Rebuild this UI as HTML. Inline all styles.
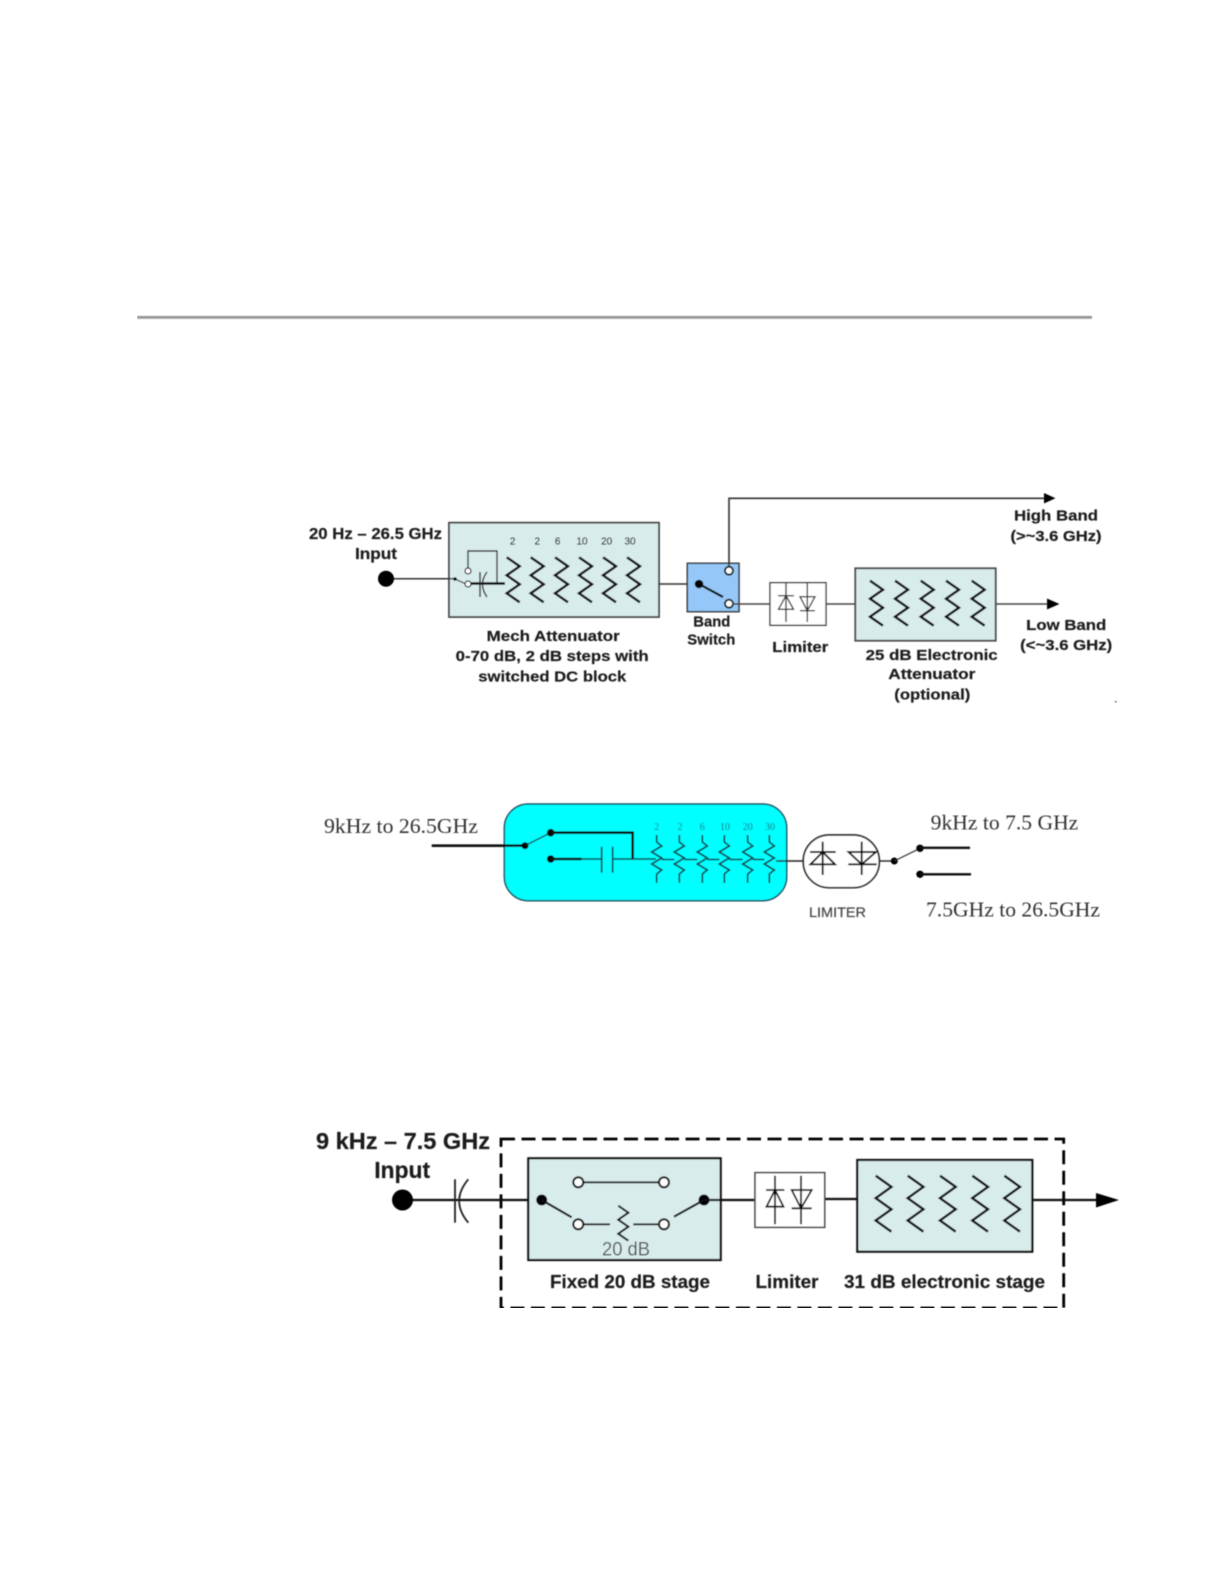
<!DOCTYPE html>
<html>
<head>
<meta charset="utf-8">
<style>
html,body{margin:0;padding:0;background:#fff;width:1224px;height:1584px;overflow:hidden}
svg{display:block}
.b{font-family:"Liberation Sans",sans-serif;font-weight:bold;fill:#1c1c1c;stroke:#1c1c1c;stroke-width:.2}
.s{font-family:"Liberation Serif",serif;fill:#333}
</style>
</head>
<body>
<svg xmlns="http://www.w3.org/2000/svg" width="1224" height="1584" viewBox="0 0 1224 1584">
<defs>
<filter id="bl" x="0" y="0" width="100%" height="100%"><feGaussianBlur stdDeviation="0.45"/></filter>
<polyline id="z1" points="0,0 13,9 0,18 13,27 0,36 13,45" fill="none" stroke="#111" stroke-width="2.5"/>
<polyline id="z3" points="0,0 15.7,11.2 0,22.4 15.7,33.6 0,44.8 15.7,56" fill="none" stroke="#111" stroke-width="2.5"/>
<path id="z4" d="M0 0V7L5 11L-5 17L5 23L-5 29L5 35L0 39V48" fill="none" stroke="#123c46" stroke-width="1.7"/>
</defs>
<rect width="1224" height="1584" fill="#fff"/>
<g filter="url(#bl)">
<rect x="137" y="315.8" width="955" height="3" fill="#999"/>

<!-- Diagram 1 -->
<text class="b" x="309" y="539" font-size="15.5" textLength="133" lengthAdjust="spacingAndGlyphs">20 Hz – 26.5 GHz</text>
<text class="b" x="355" y="559" font-size="15.5" textLength="42" lengthAdjust="spacingAndGlyphs">Input</text>
<rect x="449" y="522.7" width="210" height="94.3" fill="#d9ecec" stroke="#444" stroke-width="1.8"/>
<path d="M386 578.7H455" stroke="#333" stroke-width="1.5"/>
<circle cx="386" cy="578.7" r="8" fill="#000"/>
<circle cx="455" cy="579" r="1.8" fill="#000"/>
<path d="M455 579L466 584" stroke="#111" stroke-width="1.2"/>
<path d="M468 568V551H497V583" fill="none" stroke="#333" stroke-width="1.4"/>
<circle cx="468" cy="571" r="3" fill="#fff" stroke="#111" stroke-width="1.2"/>
<circle cx="468" cy="584" r="3" fill="#fff" stroke="#111" stroke-width="1.2"/>
<path d="M471 583.5H505" stroke="#000" stroke-width="2.4"/>
<path d="M480 572V597" stroke="#222" stroke-width="1.4"/>
<path d="M487 572Q478 584 487 597" fill="none" stroke="#222" stroke-width="1.4"/>
<use href="#z1" x="506.7" y="557.3"/><use href="#z1" x="530.7" y="557.3"/><use href="#z1" x="555" y="557.3"/><use href="#z1" x="579" y="557.3"/><use href="#z1" x="603" y="557.3"/><use href="#z1" x="627" y="557.3"/>
<g font-family="Liberation Sans,sans-serif" font-size="10" fill="#222" text-anchor="middle" stroke="#222" stroke-width=".2">
<text x="512.7" y="544.5">2</text><text x="537.3" y="544.5">2</text><text x="557.7" y="544.5">6</text><text x="582" y="544.5">10</text><text x="606.7" y="544.5">20</text><text x="630" y="544.5">30</text>
</g>
<path d="M659 584H687" stroke="#333" stroke-width="1.5"/>
<rect x="687.3" y="563.3" width="51.7" height="48.4" fill="#95c8f8" stroke="#333" stroke-width="1.5"/>
<circle cx="699" cy="584" r="4.3" fill="#000"/>
<path d="M699 584L723 597" stroke="#000" stroke-width="2.2"/>
<path d="M729 567V498.3H1045" fill="none" stroke="#333" stroke-width="1.6"/>
<circle cx="729" cy="570.7" r="4" fill="#fff" stroke="#111" stroke-width="1.9"/>
<circle cx="729" cy="603.7" r="4" fill="#fff" stroke="#111" stroke-width="1.9"/>
<path d="M1044 493L1055.5 498.3L1044 503.5Z" fill="#000"/>
<path d="M733 604H770" stroke="#444" stroke-width="1.5"/>
<rect x="770" y="582.7" width="56" height="42.6" fill="#fff" stroke="#444" stroke-width="1.4"/>
<path d="M786 583V622M778 595.7H794M778.5 609.3H793.5L786 595.7Z" fill="none" stroke="#333" stroke-width="1.4"/>
<path d="M807.3 583V622M800 610.7H815M800 596.7H815L807.3 610.7Z" fill="none" stroke="#333" stroke-width="1.4"/>
<path d="M826 604H855" stroke="#444" stroke-width="1.5"/>
<rect x="855.3" y="568.3" width="140.4" height="72.4" fill="#d9ecec" stroke="#444" stroke-width="1.8"/>
<use href="#z1" x="870" y="580.7"/><use href="#z1" x="895" y="580.7"/><use href="#z1" x="920.7" y="580.7"/><use href="#z1" x="946" y="580.7"/><use href="#z1" x="971.7" y="580.7"/>
<path d="M995.7 604H1048" stroke="#444" stroke-width="1.5"/>
<path d="M1047 598.5L1059.5 604L1047 609.5Z" fill="#000"/>
<text class="b" x="1014" y="520.7" font-size="15" textLength="84" lengthAdjust="spacingAndGlyphs">High Band</text>
<text class="b" x="1010.5" y="541" font-size="15" textLength="91" lengthAdjust="spacingAndGlyphs">(&gt;~3.6 GHz)</text>
<text class="b" x="1026.2" y="629.8" font-size="15" textLength="80" lengthAdjust="spacingAndGlyphs">Low Band</text>
<text class="b" x="1020.2" y="649.8" font-size="15" textLength="92" lengthAdjust="spacingAndGlyphs">(&lt;~3.6 GHz)</text>
<text class="b" x="772.3" y="652.2" font-size="15" textLength="56" lengthAdjust="spacingAndGlyphs">Limiter</text>
<text class="b" x="865.7" y="659.8" font-size="15" textLength="132" lengthAdjust="spacingAndGlyphs">25 dB Electronic</text>
<text class="b" x="888.3" y="679.2" font-size="15" textLength="87" lengthAdjust="spacingAndGlyphs">Attenuator</text>
<text class="b" x="894.3" y="699.5" font-size="15" textLength="76" lengthAdjust="spacingAndGlyphs">(optional)</text>
<text class="b" x="486.7" y="640.8" font-size="15" textLength="133" lengthAdjust="spacingAndGlyphs">Mech Attenuator</text>
<text class="b" x="455.7" y="661" font-size="15" textLength="193" lengthAdjust="spacingAndGlyphs">0-70 dB, 2 dB steps with</text>
<text class="b" x="478.3" y="681.5" font-size="15" textLength="148" lengthAdjust="spacingAndGlyphs">switched DC block</text>
<text class="b" x="693.3" y="626.6" font-size="14.5" textLength="37" lengthAdjust="spacingAndGlyphs">Band</text>
<text class="b" x="687.3" y="644.6" font-size="14.5" textLength="48" lengthAdjust="spacingAndGlyphs">Switch</text>
<rect x="1115" y="701" width="1.5" height="1.5" fill="#555"/>

<!-- Diagram 2 -->
<text class="s" x="324" y="833" font-size="21" textLength="154" lengthAdjust="spacingAndGlyphs">9kHz to 26.5GHz</text>
<rect x="504.3" y="804" width="282.4" height="96.7" rx="24" ry="24" fill="#00ffff" stroke="#1f5060" stroke-width="1.5"/>
<path d="M431.7 845.7H525" stroke="#111" stroke-width="2.6"/>
<circle cx="525" cy="845.7" r="3.5" fill="#000"/>
<path d="M525 845.7L550.7 832.7" stroke="#222" stroke-width="1.3"/>
<circle cx="550.7" cy="832.7" r="3.8" fill="#000"/>
<path d="M550.7 832.7H632.7V859" fill="none" stroke="#111" stroke-width="2.6"/>
<circle cx="550.7" cy="859" r="3.8" fill="#000"/>
<path d="M550.7 859H581.7" stroke="#111" stroke-width="2.6"/>
<path d="M581.7 859H601.7M612.7 859H656M661.7 859.5H674.3M684.3 859.5H697.3M707.3 859.5H719.3M729.3 859.5H742.7M752.7 859.5H764.3" stroke="#123c46" stroke-width="1.5"/>
<path d="M601.7 846.7V872.7M612.7 846.7V872.7" stroke="#123c46" stroke-width="1.7"/>
<path d="M776 861H803.3" fill="none" stroke="#222" stroke-width="1.4"/>
<use href="#z4" x="656.7" y="835"/><use href="#z4" x="679.3" y="835"/><use href="#z4" x="702.3" y="835"/><use href="#z4" x="724.3" y="835"/><use href="#z4" x="747.7" y="835"/><use href="#z4" x="769.3" y="835"/>
<g font-family="Liberation Serif,serif" font-size="10" fill="#1c6474" text-anchor="middle">
<text x="656.7" y="830">2</text><text x="680" y="830">2</text><text x="702.3" y="830">6</text><text x="725" y="830">10</text><text x="747.7" y="830">20</text><text x="770" y="830">30</text>
</g>
<rect x="803.3" y="835" width="76" height="52.7" rx="26" ry="26" fill="#fff" stroke="#222" stroke-width="1.7"/>
<path d="M822.7 841.7V875M810 852H835.7M810.5 864.3H835L822.7 852Z" fill="none" stroke="#111" stroke-width="1.9"/>
<path d="M861.7 841.7V875M848.3 864.3H876.7M848.5 852H876L861.7 864.3Z" fill="none" stroke="#111" stroke-width="1.9"/>
<path d="M879.3 861H894.3" stroke="#222" stroke-width="1.4"/>
<circle cx="894.3" cy="861" r="3.5" fill="#000"/>
<path d="M894.3 861L920 848.3" stroke="#333" stroke-width="1.2"/>
<circle cx="920" cy="848.3" r="3.7" fill="#000"/>
<path d="M920 847.8H970" stroke="#111" stroke-width="2.3"/>
<circle cx="920" cy="874.3" r="3.7" fill="#000"/>
<path d="M920 874.3H971" stroke="#111" stroke-width="2.3"/>
<text class="s" x="930.7" y="829.3" font-size="21" textLength="147.6" lengthAdjust="spacingAndGlyphs">9kHz to 7.5 GHz</text>
<text class="s" x="926" y="916.7" font-size="21" textLength="174" lengthAdjust="spacingAndGlyphs">7.5GHz to 26.5GHz</text>
<text x="809" y="917" font-family="Liberation Sans,sans-serif" font-size="13.5" fill="#444" stroke="#444" stroke-width=".2" textLength="57" lengthAdjust="spacingAndGlyphs">LIMITER</text>

<!-- Diagram 3 -->
<text class="b" x="316" y="1149" font-size="23" textLength="174" lengthAdjust="spacingAndGlyphs">9 kHz – 7.5 GHz</text>
<text class="b" x="374.2" y="1178" font-size="23" textLength="56" lengthAdjust="spacingAndGlyphs">Input</text>
<rect x="501" y="1139" width="562.7" height="169" fill="none" stroke="#000" stroke-width="2.8" stroke-dasharray="14 6.5"/>
<path d="M405 1200H528" stroke="#111" stroke-width="2.2"/>
<circle cx="402.5" cy="1200" r="10.5" fill="#000"/>
<path d="M455 1179.3V1222.7" stroke="#222" stroke-width="1.8"/>
<path d="M468.3 1179.3Q450 1201 468.3 1222.7" fill="none" stroke="#222" stroke-width="1.8"/>
<rect x="528.3" y="1158.3" width="192.4" height="101.7" fill="#d9ecec" stroke="#111" stroke-width="2.2"/>
<circle cx="541.7" cy="1200" r="5.5" fill="#000"/>
<circle cx="704" cy="1200" r="5.5" fill="#000"/>
<path d="M541.7 1200L571.7 1217.3M704 1200L674 1216.7" stroke="#111" stroke-width="2.2"/>
<path d="M578.3 1182.3H664M583 1224.3H610M633.3 1224.3H659" stroke="#111" stroke-width="1.9"/>
<circle cx="578.3" cy="1182.3" r="5" fill="#fff" stroke="#111" stroke-width="2.1"/>
<circle cx="664" cy="1182.3" r="5" fill="#fff" stroke="#111" stroke-width="2.1"/>
<circle cx="578.3" cy="1224.3" r="5" fill="#fff" stroke="#111" stroke-width="2.1"/>
<circle cx="664" cy="1224.3" r="5" fill="#fff" stroke="#111" stroke-width="2.1"/>
<polyline points="618.3,1205.7 628.3,1212.7 618.3,1219.7 628.3,1226.7 618.3,1233.7 628.3,1240.7" fill="none" stroke="#111" stroke-width="2.1"/>
<text x="602" y="1255.7" font-family="Liberation Sans,sans-serif" font-size="19.5" fill="#555" textLength="48" lengthAdjust="spacingAndGlyphs">20 dB</text>
<path d="M704 1200H755M825 1199H857.3" stroke="#111" stroke-width="2.2"/>
<rect x="755" y="1172.7" width="69.7" height="54.6" fill="#fff" stroke="#444" stroke-width="1.6"/>
<path d="M775 1175.7V1224.3M766 1190H784.3M766.5 1206.7H783.5L775 1190Z" fill="none" stroke="#111" stroke-width="1.8"/>
<path d="M801 1175.7V1224.3M791.7 1208.3H811.7M791.7 1190H811.7L801 1208.3Z" fill="none" stroke="#111" stroke-width="1.8"/>
<rect x="857.3" y="1160" width="175" height="91.7" fill="#d9ecec" stroke="#111" stroke-width="2.2"/>
<use href="#z3" x="875.7" y="1175.7"/><use href="#z3" x="907.7" y="1175.7"/><use href="#z3" x="940" y="1175.7"/><use href="#z3" x="972.3" y="1175.7"/><use href="#z3" x="1004.3" y="1175.7"/>
<path d="M1032.3 1200H1097" stroke="#111" stroke-width="2.2"/>
<path d="M1096 1193L1119 1200L1096 1207.5Z" fill="#000"/>
<text class="b" x="550" y="1288" font-size="18" textLength="160" lengthAdjust="spacingAndGlyphs">Fixed 20 dB stage</text>
<text class="b" x="755.5" y="1288" font-size="18" textLength="63" lengthAdjust="spacingAndGlyphs">Limiter</text>
<text class="b" x="844" y="1288" font-size="18" textLength="201" lengthAdjust="spacingAndGlyphs">31 dB electronic stage</text>
</g>
</svg>
</body>
</html>
